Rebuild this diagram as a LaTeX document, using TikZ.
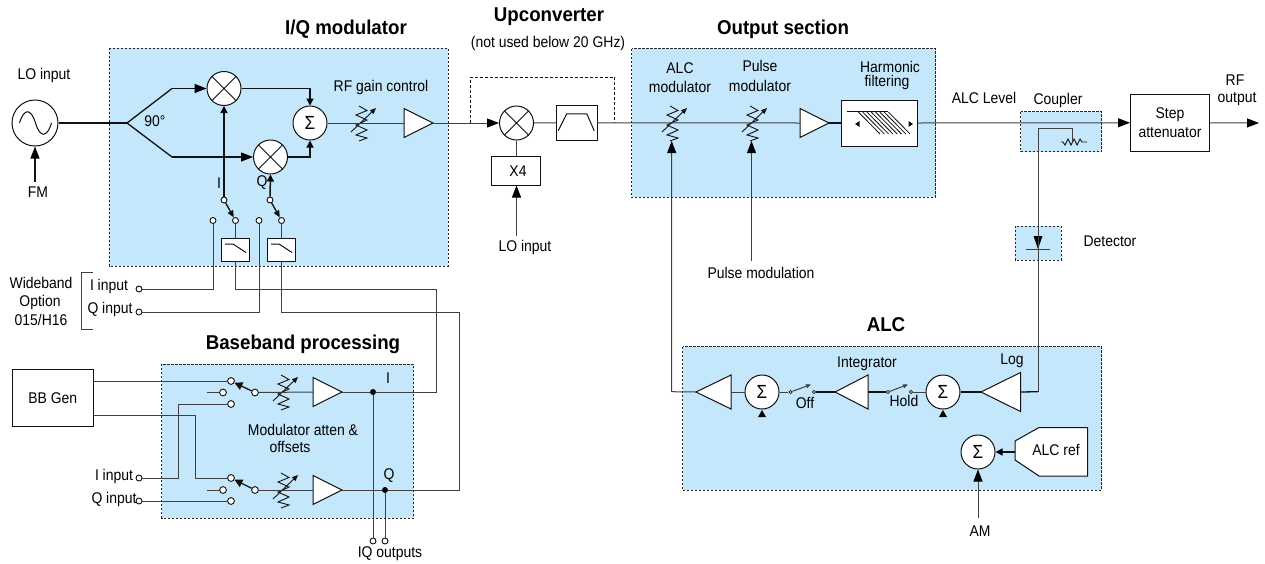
\documentclass[tikz,border=0pt]{standalone}
\usepackage{fontspec}
\setmainfont[FakeStretch=0.9]{Liberation Sans}
\newfontfamily\ttlfont[FakeStretch=0.935]{Liberation Sans}
\usetikzlibrary{arrows.meta,calc}
\definecolor{panel}{HTML}{C5E7FC}
\definecolor{ink}{HTML}{111111}
\definecolor{greyink}{HTML}{404040}
\tikzset{
  panelbox/.style={draw=black!85,dashed,dash pattern=on 2.4pt off 1.6pt,fill=panel,line width=.8pt},
  wire/.style={draw=ink,line width=1.3pt},
  thin wire/.style={draw=greyink,line width=1pt},
  arr/.style={-{Triangle[length=12pt,width=9pt,color=black,fill=black]}},
  arrs/.style={-{Triangle[length=7pt,width=7pt,color=black,fill=black]}},
  lab font/.style={font=\fontsize{15.5}{16}\selectfont},
  block/.style={draw=ink,fill=white,line width=1pt,inner sep=0pt,align=center,lab font},
  lab/.style={inner sep=0pt,align=center,lab font},
  title/.style={inner sep=0pt,font=\ttlfont\fontsize{20}{22}\selectfont\bfseries},
  rnd/.style={circle,draw=ink,fill=white,line width=1pt,inner sep=0pt,minimum size=34pt},
  term/.style={circle,draw=ink,fill=white,line width=.9pt,inner sep=0pt,minimum size=6pt},
  bigterm/.style={circle,draw=ink,fill=white,line width=.9pt,inner sep=0pt,minimum size=6.8pt},
  tinyterm/.style={circle,draw=ink,fill=white,line width=.7pt,inner sep=0pt,minimum size=3.4pt},
  jn/.style={circle,fill=black,inner sep=0pt,minimum size=6pt},
}
% triangle amplifier: name, base x, tip x, centre y, half height
\newcommand{\ampat}[5]{%
  \coordinate (#1-b) at (#2,#4);\coordinate (#1-t) at (#3,#4);
  \draw[fill=white,draw=ink,line width=1pt,line join=miter] (#2,#4-#5)--(#3,#4)--(#2,#4+#5)--cycle;}
% variable attenuator
\newcommand{\attat}[3]{%
  \coordinate (#1) at (#2,#3);
  \begin{scope}[shift={(#2,#3)}]
  \draw[draw=ink,line width=.9pt,line join=miter] (-1,-17)--(7,-12.5)--(-4,-8)--(7,-3)--(-4,2)--(7,7)--(-4,12)--(7,15)--(-1,18);
  \draw[draw=ink,line width=.9pt,-{Triangle[length=6pt,width=5pt]}] (-9,9)--(16,-15);
  \end{scope}}
\newcommand{\mixat}[3]{%
  \node[rnd] (#1) at (#2,#3) {};
  \draw[draw=ink,line width=1pt] (#1.45)--(#1.225) (#1.135)--(#1.315);}
\newcommand{\sumat}[3]{%
  \node[rnd,font=\fontsize{19}{19}\selectfont] (#1) at (#2,#3) {Σ};}
\newcommand{\lpfat}[3]{%
  \node[block,minimum width=28pt,minimum height=23pt] (#1) at (#2,#3) {};
  \draw[draw=ink,line width=1pt] ($(#1)+(-10.5,-5.5)$)--($(#1)+(-2.5,-5.5)$)--($(#1)+(10.5,3)$);}
\begin{document}
\begin{tikzpicture}[x=1pt,y=-1pt]
\useasboundingbox (0,0) rectangle (1265,563);
% panels
\path[panelbox] (109,48) rectangle (448,266);
\path[panelbox] (631.5,48.5) rectangle (935.5,197);
\path[panelbox] (161.5,364) rectangle (413.5,518);
\path[panelbox] (682.5,346.5) rectangle (1101.5,490);
\path[panelbox] (1020.5,111.5) rectangle (1101.5,151.5);
\path[panelbox] (1015,226) rectangle (1061,260);
% titles
\node[title] (tIQ) at (346,29) {I/Q modulator};
\node[title] (tUp) at (549,17) {Upconverter};
\node[title] (tOut) at (783,29) {Output section};
\node[title] (tBB) at (303,344) {Baseband processing};
\node[title] (tALC) at (886,325) {ALC};
% labels
\node[lab] (lLO) at (44,75) {LO input};
\node[lab] (lFM) at (38,192) {FM};
\node[lab] (l90) at (155,121) {90°};
\node[lab] (lRF) at (381,87) {RF gain control};
\node[lab] (lI) at (219,183) {I};
\node[lab] (lQ) at (262,183) {Q};
\node[lab] (lNot) at (548,43) {(not used below 20 GHz)};
\node[lab] (lLO2) at (525,247) {LO input};
\node[lab] (lAM1) at (680,68) {ALC};
\node[lab] (lAM2) at (680,87) {modulator};
\node[lab] (lPM1) at (760,66) {Pulse};
\node[lab] (lPM2) at (760,86) {modulator};
\node[lab] (lHF1) at (890,67) {Harmonic};
\node[lab] (lHF2) at (887,82) {filtering};
\node[lab] (lPulse) at (761,273) {Pulse modulation};
\node[lab] (lLvl) at (984,98) {ALC Level};
\node[lab] (lCoup) at (1058,100) {Coupler};
\node[lab] (lDet) at (1110,241) {Detector};
\node[lab] (lRF1) at (1235,80) {RF};
\node[lab] (lRF2) at (1237,99) {output};
\node[lab] (lInt) at (867,364) {Integrator};
\node[lab] (lLog) at (1012,361) {Log};
\node[lab] (lOff) at (805,403) {Off};
\node[lab] (lHold) at (904,401) {Hold};
\node[lab] (lAM) at (980,531) {AM};
\node[lab] (lW1) at (41,283) {Wideband};
\node[lab] (lW2) at (40,302) {Option};
\node[lab] (lW3) at (41,320) {015/H16};
\node[lab] (lWI) at (109,286) {I input};
\node[lab] (lWQ) at (110,309) {Q input};
\node[lab] (lBI) at (114,476) {I input};
\node[lab] (lBQ) at (114,499) {Q input};
\node[lab] (lMA1) at (303,430) {Modulator atten \&};
\node[lab] (lMA2) at (290,447) {offsets};
\node[lab] (lOI) at (388,378) {I};
\node[lab] (lOQ) at (389,476) {Q};
\node[lab] (lIQo) at (390,554) {IQ outputs};
% LO source
\node[rnd,minimum size=46pt] (osc) at (35,123) {};
\draw[draw=ink,line width=1pt] (19.5,123) .. controls (24,108) and (31,108) .. (35.5,123) .. controls (40,138) and (47,138) .. (51.5,123);
\coordinate (fmFree) at (35,182);
% I/Q modulator nodes
\coordinate (split) at (127,123);
\coordinate (upB) at (172,88.5);
\coordinate (dnB) at (172,157);
\mixat{mxI}{224}{88.5}
\mixat{mxQ}{270.5}{157}
\sumat{sumA}{310}{123}
\attat{attRF}{360}{123}
\ampat{ampRF}{404}{433}{123}{14.5}
\node[term] (swIa) at (224,200) {};
\node[term] (swIb) at (235.5,220.5) {};
\node[term] (swQa) at (270,200) {};
\node[term] (swQb) at (281.5,220.5) {};
\node[term] (wbIt) at (213,220.5) {};
\node[term] (wbQt) at (259,220.5) {};
\lpfat{lpfI}{235.5}{249.5}
\lpfat{lpfQ}{281.5}{249.5}
\node[term] (inWI) at (139,289) {};
\node[term] (inWQ) at (139,312) {};
\coordinate (brT) at (93,272);\coordinate (brB) at (93,329);
\coordinate (corTL) at (81,272);\coordinate (corBL) at (81,329);
% Baseband
\node[block,minimum width=80.5pt,minimum height=57pt] (bbgen) at (52.75,398) {BB Gen};
\coordinate (bbA) at ($(bbgen.east)+(0,-17)$);
\coordinate (bbB) at ($(bbgen.east)+(0,17)$);
\node[bigterm] (s1a) at (231,381) {};
\node[bigterm] (s1b) at (255,392.5) {};
\node[bigterm] (s1c) at (223,392.5) {};
\node[bigterm] (s1d) at (231,404) {};
\node[bigterm] (s2a) at (231,478) {};
\node[bigterm] (s2b) at (255,490) {};
\node[bigterm] (s2c) at (223,490) {};
\node[bigterm] (s2d) at (231,501) {};
\coordinate (s1stub) at (207,392.5);
\coordinate (s2stub) at (207,490);
\node[term] (inBI) at (139,478) {};
\node[term] (inBQ) at (139,501) {};
\attat{attB1}{282}{392}
\attat{attB2}{282}{490}
\ampat{ampB1}{313}{342}{392}{14.5}
\ampat{ampB2}{313}{342}{490}{14.5}
\node[jn] (dotI) at (373,392) {};
\node[jn] (dotQ) at (385,490) {};
\node[term] (outI) at (373,541) {};
\node[term] (outQ) at (385,541) {};
\coordinate (busI) at (436.5,392);
\coordinate (busQ) at (459.5,490);
\coordinate (up1) at (235.5,289);
\coordinate (up2) at (281.5,312);
% Upconverter
\mixat{mxU}{516.5}{123}
\node[block,minimum width=40.5pt,minimum height=34.5pt] (bpf) at (576.75,122.75) {};
\draw[draw=ink,line width=1pt] ($(bpf)+(-18.5,8)$)--($(bpf)+(-10,-9)$)--($(bpf)+(10,-9)$)--($(bpf)+(17.5,8)$);
\node[block,minimum width=49pt,minimum height=28.5pt] (x4) at (516,170.75) {\hspace*{4pt}X4};
\coordinate (loFree) at (516.5,236);
\coordinate (byL) at (470.5,123);
\coordinate (byR) at (614.5,123);
\coordinate (byLt) at (470.5,77);
\coordinate (byRt) at (614.5,77);
% Output section
\attat{attA}{671}{123}
\attat{attP}{751}{123}
\ampat{ampO}{800}{829}{123}{14.5}
\node[block,minimum width=76pt,minimum height=46pt] (harm) at (879.5,123) {};
\draw[draw=ink,line width=1pt] (846.7,111.7)--(888,111.7);
\foreach \i in {0,...,7}{\draw[draw=ink,line width=.8pt] ($(858.3,112)+(\i*4.3,0)$)--($(880,134)+(\i*4.3,0)$);}
\fill[ink] (855,124)--(859.5,121)--(859.5,127)--cycle;
\fill[ink] (913,124)--(908.5,121)--(908.5,127)--cycle;
\coordinate (pulseFree) at (751.5,261);
\coordinate (pulseTip) at (751.5,141);
\coordinate (alcTip) at (671.7,141);
% Coupler, attenuator, detector
\node[block,minimum width=79pt,minimum height=56.5pt] (step) at (1170,122.75) {Step\\[3pt]attenuator};
\coordinate (rfFree) at (1259,123);
\coordinate (cpT) at (1038,128.5);
\coordinate (cpR) at (1072.5,128.5);
\coordinate (cpE) at (1072.5,142);
\draw[draw=ink,line width=.9pt] (1061,142)--(1063,142)--(1065,145)--(1068,139)--(1071,145)--(1074,139)--(1077,145)--(1080,139)--(1082,142)--(1087,142);
\fill[black] (1033.5,236)--(1042.5,236)--(1038,249)--cycle;
\coordinate (dBarL) at (1026,249);\coordinate (dBarR) at (1050,249);
\coordinate (alcJ) at (1038,391.7);
% ALC
\ampat{ampC1}{731}{696}{392}{17}
\sumat{sumC1}{762}{392}
\fill[black] (758,417)--(766,417)--(762,410)--cycle;
\node[tinyterm] (swOa) at (790.5,392) {};
\node[tinyterm] (swOb) at (814,392) {};
\ampat{ampC2}{868}{835}{392}{17}
\node[tinyterm] (swHa) at (888,392) {};
\node[tinyterm] (swHb) at (911,392) {};
\sumat{sumC2}{943}{392}
\fill[black] (939,417)--(947,417)--(943,410)--cycle;
\ampat{ampC3}{1020.5}{981}{392}{19.5}
\sumat{sumC3}{978}{452}
\draw[draw=ink,fill=white,line width=1pt] (1015,441)--(1039,427.5)--(1087.5,427.5)--(1087.5,476)--(1039,476)--(1015,460)--cycle;
\coordinate (refOut) at (1015,452);
\node[lab] (lRef) at (1056,450) {ALC ref};
\coordinate (amFree) at (978,518);
\coordinate (alcCorner) at (671.7,391.7);
% wires
\draw[wire] (osc.east)--(split);
\draw[wire,arr] (fmFree)--(osc.south);
\draw[wire] (upB)--(split)--(dnB);
\draw[wire,arr] (upB)--(mxI.west);
\draw[wire,arr] (dnB)--(mxQ.west);
\draw[wire,arrs] (mxI.east)-|(sumA.north);
\draw[wire,arrs] (mxQ.east)-|(sumA.south);
\draw[thin wire] (sumA.east)--(ampRF-b);
\draw[wire,arrs] (swIa.north)--(mxI.south);
\draw[wire,line width=1.5pt,arrs] (swQa.north)--(mxQ.south);
\draw[wire,-{Triangle[length=7pt,width=6pt]}] (swIa)--(swIb);
\draw[wire,-{Triangle[length=7pt,width=6pt]}] (swQa)--(swQb);
\draw[thin wire] (swIb)--(lpfI.north);
\draw[thin wire] (swQb)--(lpfQ.north);
\draw[thin wire] (inWI.east)-|(wbIt.south);
\draw[thin wire] (inWQ.east)-|(wbQt.south);
\draw[thin wire] (lpfI.south)--(up1)-|(busI);
\draw[thin wire] (lpfQ.south)--(up2)-|(busQ);
\draw[thin wire] (busI)--(dotI);
\draw[thin wire] (busQ)--(dotQ);
\draw[thin wire] (brT)--(corTL)--(corBL)--(brB);
\draw[thin wire] (bbA)--(s1a.west);
\draw[thin wire] (bbB)-|($(s2a.west)+(-32,0)$)--(s2a.west);
\draw[thin wire] (s1stub)--(s1c.west);
\draw[thin wire] (s2stub)--(s2c.west);
\draw[thin wire] (inBI.east)-|($(s1d.west)+(-49,0)$)--(s1d.west);
\draw[thin wire] (inBQ.east)--(s2d.west);
\draw[wire,-{Triangle[length=8pt,width=8pt]}] (s1b)--(s1a);
\draw[wire,-{Triangle[length=8pt,width=8pt]}] (s2b)--(s2a);
\draw[thin wire] (s1b.east)--(ampB1-b);
\draw[thin wire] (s2b.east)--(ampB2-b);
\draw[thin wire] (ampB1-t)--(dotI);
\draw[thin wire] (ampB2-t)--(dotQ);
\draw[thin wire] (dotI)--(outI.north);
\draw[thin wire] (dotQ)--(outQ.north);
\draw[thin wire,arr] (ampRF-t)--(mxU.west);
\draw[draw=ink,dashed,dash pattern=on 3pt off 2pt,line width=.8pt] (byL)--(byLt)--(byRt)--(byR);
\draw[thin wire] (mxU.east)--(bpf.west);
\draw[thin wire] (mxU.south)--(x4.north -| mxU);
\draw[thin wire,arr] (loFree)--(x4.south -| loFree);
\draw[thin wire] (bpf.east)--(ampO-b);
\draw[wire] (ampO-t)--(harm.west);
\draw[thin wire,arr] (harm.east)--(step.west);
\draw[thin wire,arr] (step.east)--(rfFree);
\draw[thin wire,arr] (pulseFree)--(pulseTip);
\draw[thin wire,arr] (ampC1-t)--(alcCorner)--(alcTip);
\draw[thin wire] (cpE)--(cpR)--(cpT)--(alcJ);
\draw[thin wire] (dBarL)--(dBarR);
\draw[wire] (ampC3-b)--(alcJ);
\draw[thin wire] (ampC1-b)--(sumC1.west);
\draw[thin wire] (sumC1.east)--(swOa);
\draw[thin wire,-{Triangle[length=5pt,width=4pt]}] (swOa)--($(swOb)+(-3,-7.5)$);
\draw[wire] (swOb)--(ampC2-t);
\draw[wire] (ampC2-b)--(swHa);
\draw[thin wire,-{Triangle[length=5pt,width=4pt]}] (swHa)--($(swHb)+(-3,-7.5)$);
\draw[thin wire] (swHb)--(sumC2.west);
\draw[wire] (sumC2.east)--(ampC3-t);
\draw[wire,arrs] (refOut)--(sumC3.east);
\draw[thin wire,arr] (amFree)--(sumC3.south);
\end{tikzpicture}
\end{document}
